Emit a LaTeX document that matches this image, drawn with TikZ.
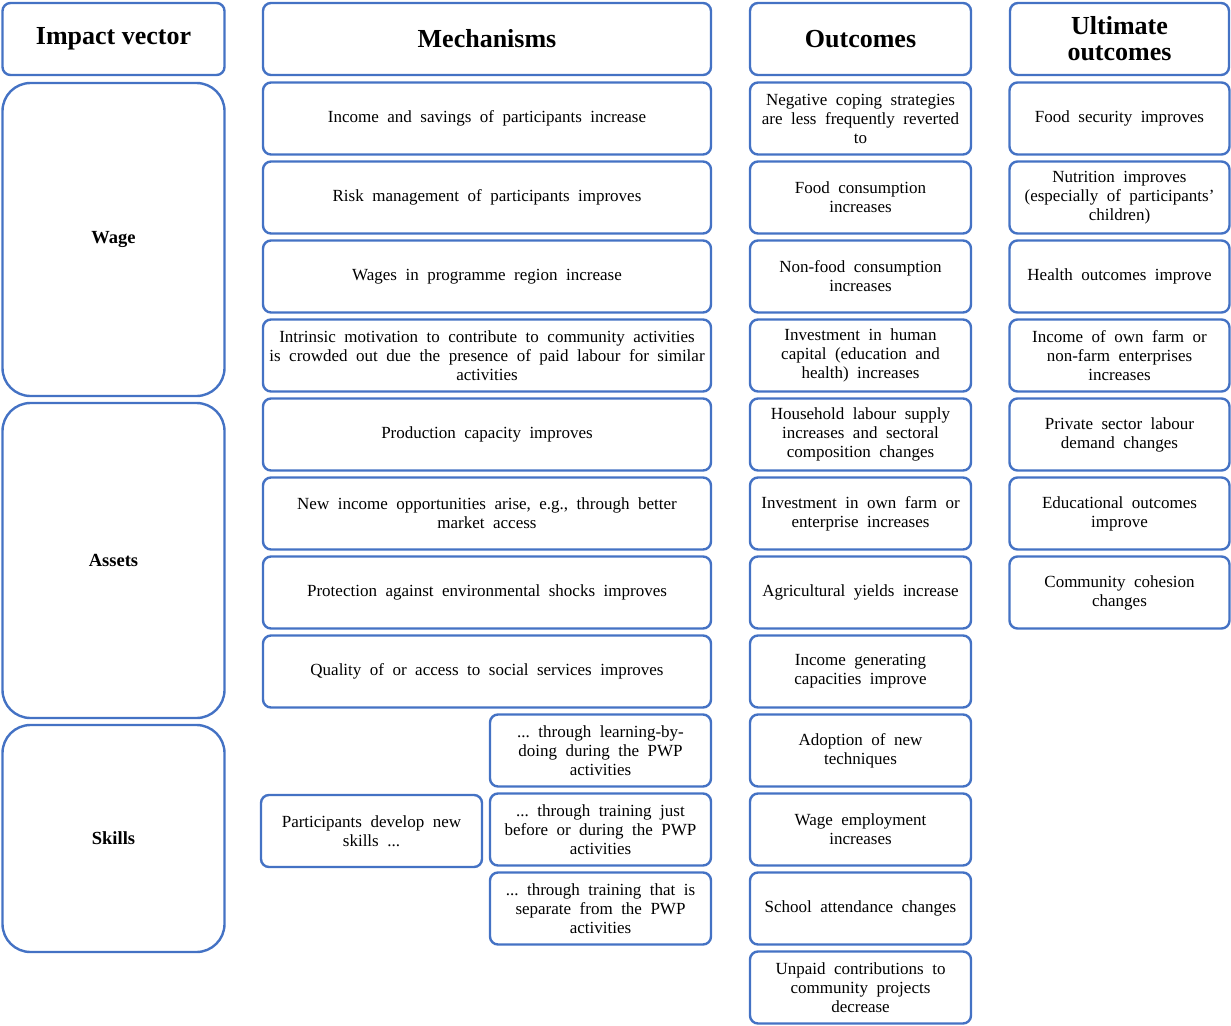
\documentclass[tikz,border=0pt]{standalone}
\usepackage{fontspec}
\setmainfont{Liberation Serif}
\usepackage{tikz}

\definecolor{boxblue}{HTML}{4472C4}
\newcommand\widespaces{\spaceskip=0.5em\relax}

\begin{document}
\begin{tikzpicture}[x=1pt,y=-1pt,
  cell/.style={draw=boxblue,line width=2.4pt,rounded corners=8pt,fill=white,
    minimum height=72pt,inner sep=2pt,align=center},
  body/.style={cell,font=\fontsize{17}{19}\selectfont,execute at begin node=\widespaces},
  mech/.style={body,minimum width=448pt,text width=440pt},
  half/.style={body,minimum width=221pt,text width=216pt},
  head/.style={cell,font=\fontsize{26}{26}\selectfont\bfseries},
  vector/.style={cell,rounded corners=28pt,minimum width=222pt,font=\fontsize{18.5}{19}\selectfont\bfseries}]
\useasboundingbox (0,0) rectangle (1231,1025);

% headers
\node[head,minimum width=222pt] (hvec) at (113.5,39) {Impact vector};
\node[head,minimum width=448pt] (hmech) at (487,39) {Mechanisms};
\node[head,minimum width=221pt] (hout) at (860.5,39) {Outcomes};
\node[head,minimum width=219pt] (hult) at (1119.5,39) {Ultimate\\outcomes};

% impact vectors
\node[vector,minimum height=313pt] (wage) at (113.5,239.5) {Wage};
\node[vector,minimum height=315pt] (assets) at (113.5,560.5) {Assets};
\node[vector,minimum height=227pt] (skills) at (113.5,838.5) {Skills};

% mechanisms
\node[mech] (m1) at (487,118.5) {Income and savings of participants increase};
\node[mech] (m2) at (487,197.5) {Risk management of participants improves};
\node[mech] (m3) at (487,276.5) {Wages in programme region increase};
\node[mech] (m4) at (487,355.5) {Intrinsic motivation to contribute to community activities\\is crowded out due the presence of paid labour for similar\\activities};
\node[mech] (m5) at (487,434.5) {Production capacity improves};
\node[mech] (m6) at (487,513.5) {New income opportunities arise, e.g., through better\\market access};
\node[mech] (m7) at (487,592.5) {Protection against environmental shocks improves};
\node[mech] (m8) at (487,671.5) {Quality of or access to social services improves};
\node[half] (newskills) at (371.5,831) {Participants develop new\\skills ...};
\node[half] (learn) at (600.5,750.5) {... through learning-by-\\doing during the PWP\\activities};
\node[half] (train) at (600.5,829.5) {... through training just\\before or during the PWP\\activities};
\node[half] (separate) at (600.5,908.5) {... through training that is\\separate from the PWP\\activities};

% outcomes
\node[half] (o1) at (860.5,118.5) {Negative coping strategies\\are less frequently reverted\\to};
\node[half] (o2) at (860.5,197.5) {Food consumption\\increases};
\node[half] (o3) at (860.5,276.5) {Non-food consumption\\increases};
\node[half] (o4) at (860.5,355.5) {Investment in human\\capital (education and\\health) increases};
\node[half] (o5) at (860.5,434.5) {Household labour supply\\increases and sectoral\\composition changes};
\node[half] (o6) at (860.5,513.5) {Investment in own farm or\\enterprise increases};
\node[half] (o7) at (860.5,592.5) {Agricultural yields increase};
\node[half] (o8) at (860.5,671.5) {Income generating\\capacities improve};
\node[half] (o9) at (860.5,750.5) {Adoption of new\\techniques};
\node[half] (o10) at (860.5,829.5) {Wage employment\\increases};
\node[half] (o11) at (860.5,908.5) {School attendance changes};
\node[half] (o12) at (860.5,987.5) {Unpaid contributions to\\community projects\\decrease};

% ultimate outcomes
\node[half,minimum width=219pt] (u1) at (1119.5,118.5) {Food security improves};
\node[half,minimum width=219pt] (u2) at (1119.5,197.5) {Nutrition improves\\(especially of participants'\\children)};
\node[half,minimum width=219pt] (u3) at (1119.5,276.5) {Health outcomes improve};
\node[half,minimum width=219pt] (u4) at (1119.5,355.5) {Income of own farm or\\non-farm enterprises\\increases};
\node[half,minimum width=219pt] (u5) at (1119.5,434.5) {Private sector labour\\demand changes};
\node[half,minimum width=219pt] (u6) at (1119.5,513.5) {Educational outcomes\\improve};
\node[half,minimum width=219pt] (u7) at (1119.5,592.5) {Community cohesion\\changes};
\end{tikzpicture}
\end{document}
